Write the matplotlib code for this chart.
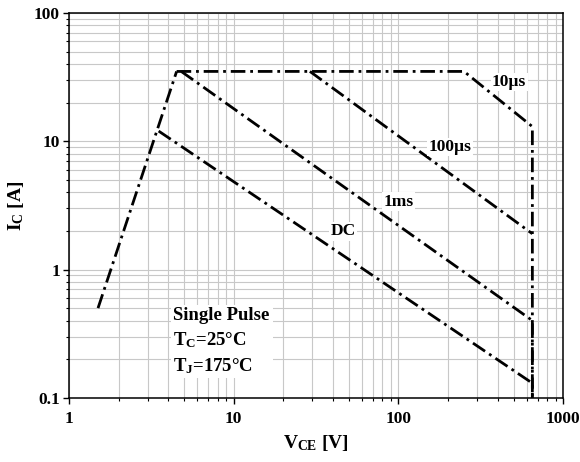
import matplotlib
matplotlib.use("Agg")
import matplotlib.pyplot as plt
from matplotlib.ticker import LogLocator, NullFormatter, FixedLocator, FixedFormatter

plt.rcParams["font.family"] = ["Liberation Serif", "DejaVu Serif"]
plt.rcParams["font.weight"] = "bold"
plt.rcParams["axes.labelweight"] = "bold"
plt.rcParams["mathtext.fontset"] = "custom"
plt.rcParams["mathtext.rm"] = "Liberation Serif:bold"
plt.rcParams["mathtext.it"] = "Liberation Serif:bold"
plt.rcParams["mathtext.bf"] = "Liberation Serif:bold"
plt.rcParams["lines.scale_dashes"] = False

# safe operating area boundaries (V_CE in V, I_C in A)
rise_v = [1.5, 4.5]
rise_i = [0.5, 35]
us10_v = [4.5, 250, 650, 650]
us10_i = [35, 35, 13, 0.1]
us100_v = [29, 650]
us100_i = [35, 1.9]
ms1_v = [4.8, 650, 650]
ms1_i = [35, 0.4, 0.1]
dc_v = [3.5, 650, 650]
dc_i = [12, 0.13, 0.1]

x_ticks = [1, 10, 100, 1000]
x_labels = ["1", "10", "100", "1000"]
y_ticks = [0.1, 1, 10, 100]
y_labels = ["0.1", "1", "10", "100"]

fig = plt.figure(figsize=(5.8, 4.62), dpi=100)
ax = fig.add_axes([0.119, 0.139, 0.852, 0.833])

ax.set_xscale("log")
ax.set_yscale("log")
ax.set_xlim(1, 1000)
ax.set_ylim(0.1, 100)

dash = (0, (10.5, 3.5, 2, 3.5))
style = dict(color="black", lw=2.0, linestyle=dash, zorder=3)
ax.plot(rise_v, rise_i, **style)
ax.plot(us10_v, us10_i, **style)
ax.plot(us100_v, us100_i, **style)
ax.plot(ms1_v, ms1_i, **style)
ax.plot(dc_v, dc_i, **style)

ax.xaxis.set_major_locator(FixedLocator(x_ticks))
ax.xaxis.set_major_formatter(FixedFormatter(x_labels))
ax.yaxis.set_major_locator(FixedLocator(y_ticks))
ax.yaxis.set_major_formatter(FixedFormatter(y_labels))
ax.xaxis.set_minor_locator(LogLocator(base=10, subs=range(2, 10)))
ax.yaxis.set_minor_locator(LogLocator(base=10, subs=range(2, 10)))
ax.xaxis.set_minor_formatter(NullFormatter())
ax.yaxis.set_minor_formatter(NullFormatter())

ax.grid(True, which="both", color="#c8c8c8", lw=0.8, zorder=0)
ax.set_axisbelow(True)

ax.tick_params(which="major", direction="out", length=4.5, width=1,
               labelsize=12.5, pad=2)
ax.tick_params(which="minor", direction="out", length=2.5, width=0.8)
ax.tick_params(axis="x", which="major", pad=5)
for s in ax.spines.values():
    s.set_linewidth(1.1)

ax.set_xlabel(r"$V_{CE}$ [V]", fontsize=14, labelpad=4)
ax.set_ylabel(r"$I_{C}$ [A]", fontsize=14, labelpad=6)

box = dict(facecolor="white", edgecolor="none", pad=1)
ax.text(370, 29, "10µs", fontsize=12.5, ha="left", va="center", bbox=box, zorder=4)
ax.text(206, 9.0, "100µs", fontsize=12.5, ha="center", va="center", bbox=box, zorder=4)
ax.text(100, 3.37, "1ms", fontsize=12.5, ha="center", va="center", bbox=box, zorder=4)
ax.text(46, 1.98, "DC", fontsize=12.5, ha="center", va="center", bbox=box, zorder=4)

ax.text(4.3, 0.275, "Single Pulse\n$T_C$=25°C\n$T_J$=175°C", fontsize=13.5,
        ha="left", va="center", linespacing=1.4,
        bbox=dict(facecolor="white", edgecolor="none", pad=2), zorder=4)

fig.savefig("out.png", dpi=100)
plt.close(fig)
